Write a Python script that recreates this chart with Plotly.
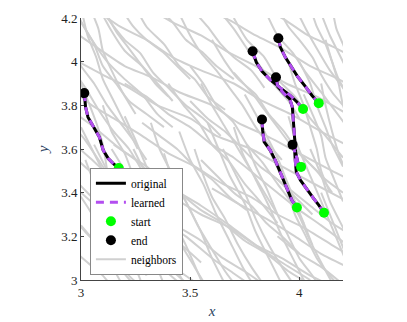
import plotly.graph_objects as go

# ---- trajectories (original == learned), listed from end to start ----
traj_x = [
    [3.015, 3.021, 3.032, 3.057, 3.084, 3.102, 3.125, 3.148, 3.173],
    [3.786, 3.803, 3.829, 3.867, 3.913, 3.959, 3.989, 4.017],
    [3.893, 3.901, 3.928, 3.956, 3.968, 3.972, 3.977, 3.983, 3.992, 4.008],
    [3.904, 3.913, 3.936, 3.966, 3.992, 4.028, 4.058, 4.089],
    [3.829, 3.832, 3.839, 3.867, 3.890, 3.913, 3.940, 3.966, 3.989],
    [3.969, 3.979, 3.982, 3.986, 4.005, 4.035, 4.066, 4.089, 4.113],
]
traj_y = [
    [3.856, 3.792, 3.746, 3.700, 3.655, 3.594, 3.556, 3.533, 3.513],
    [4.048, 3.997, 3.956, 3.917, 3.880, 3.845, 3.815, 3.783],
    [3.929, 3.886, 3.856, 3.830, 3.792, 3.731, 3.655, 3.586, 3.541, 3.518],
    [4.107, 4.066, 4.020, 3.975, 3.932, 3.886, 3.845, 3.810],
    [3.735, 3.685, 3.632, 3.594, 3.548, 3.495, 3.426, 3.365, 3.332],
    [3.620, 3.586, 3.541, 3.495, 3.457, 3.414, 3.373, 3.343, 3.308],
]

# ---- neighbour trajectories ----
neighbor_x = [
    [2.95, 3.1, 3.22, 3.35, 3.5, 3.62, 3.78, 3.92, 4.05, 4.22],
    [2.95, 3.08, 3.2, 3.32, 3.45, 3.6, 3.72, 3.85, 4.0, 4.15, 4.25],
    [3.05, 3.18, 3.3, 3.42, 3.55, 3.7, 3.83, 3.96, 4.1, 4.25],
    [3.3, 3.42, 3.55, 3.68, 3.8, 3.94, 4.08, 4.22],
    [3.55, 3.68, 3.8, 3.92, 4.05, 4.18, 4.25],
    [3.8, 3.92, 4.04, 4.15, 4.25],
    [2.95, 3.05, 3.15, 3.28, 3.4, 3.52, 3.65, 3.78, 3.9, 4.02, 4.15, 4.25],
    [2.95, 3.06, 3.18, 3.3, 3.42, 3.55, 3.68, 3.8, 3.92, 4.05],
    [2.95, 3.04, 3.14, 3.25, 3.36, 3.48, 3.6, 3.7, 3.8],
    [2.95, 3.03, 3.12, 3.22, 3.32, 3.42, 3.5],
    [2.95, 3.02, 3.1, 3.18, 3.25],
    [2.95, 3.03, 3.1, 3.15],
    [3.0, 3.05, 3.1, 3.16, 3.2, 3.26, 3.3],
    [3.1, 3.14, 3.2, 3.25, 3.3, 3.36, 3.42],
    [3.2, 3.25, 3.3, 3.37, 3.42, 3.48, 3.55],
    [3.32, 3.36, 3.42, 3.48, 3.55, 3.6, 3.66],
    [3.45, 3.5, 3.56, 3.62, 3.68, 3.74, 3.8],
    [3.58, 3.63, 3.68, 3.75, 3.8, 3.86, 3.92],
    [3.7, 3.74, 3.8, 3.86, 3.92, 3.98, 4.04],
    [3.82, 3.86, 3.92, 3.98, 4.04, 4.1, 4.16],
    [3.95, 3.99, 4.04, 4.1, 4.15, 4.2, 4.25],
    [4.05, 4.1, 4.14, 4.2, 4.25],
    [3.6, 3.66, 3.72, 3.8, 3.86, 3.93, 4.0, 4.08, 4.15],
    [3.7, 3.76, 3.84, 3.9, 3.98, 4.05, 4.12, 4.2],
    [3.85, 3.9, 3.97, 4.03, 4.1, 4.16, 4.22],
    [3.98, 4.03, 4.08, 4.14, 4.2, 4.25],
    [4.1, 4.14, 4.18, 4.22],
    [3.5, 3.56, 3.62, 3.7, 3.76, 3.83, 3.9, 3.96, 4.02],
    [3.4, 3.47, 3.54, 3.6, 3.68, 3.75, 3.82, 3.9],
    [2.98, 3.05, 3.12, 3.2, 3.28, 3.35, 3.42],
    [3.08, 3.14, 3.2, 3.28, 3.35, 3.42],
    [2.95, 3.0, 3.06, 3.12, 3.18, 3.24, 3.3],
    [2.95, 3.02, 3.08, 3.15, 3.22, 3.28],
    [3.3, 3.42, 3.55, 3.68, 3.8, 3.92, 4.05, 4.18],
    [3.6, 3.72, 3.85, 3.98, 4.1, 4.22],
    [3.85, 3.95, 4.05, 4.15, 4.25],
    [3.05, 3.15, 3.25, 3.35, 3.45, 3.55],
    [3.2, 3.3, 3.4, 3.5, 3.6, 3.7, 3.8, 3.9, 4.0, 4.1, 4.22],
    [3.15, 3.25, 3.35, 3.45, 3.55, 3.65, 3.75, 3.85, 3.95, 4.05, 4.15],
    [3.0, 3.03, 3.07, 3.1, 3.15, 3.2, 3.26],
    [3.04, 3.08, 3.1, 3.14, 3.19, 3.25],
    [2.97, 3.0, 3.04, 3.07, 3.1, 3.12],
    [3.12, 3.2, 3.27, 3.33, 3.4, 3.48, 3.56, 3.64],
    [3.25, 3.3, 3.38, 3.45, 3.52, 3.58, 3.66],
    [3.45, 3.5, 3.55, 3.62, 3.68, 3.74, 3.8, 3.86, 3.92],
    [3.62, 3.7, 3.76, 3.82, 3.88, 3.95, 4.0],
    [3.9, 3.95, 4.0, 4.06, 4.1, 4.15, 4.2],
    [4.05, 4.08, 4.12, 4.15, 4.18, 4.22],
    [4.15, 4.17, 4.2, 4.23],
    [4.0, 4.05, 4.08, 4.12, 4.15, 4.2],
    [4.1, 4.12, 4.15, 4.18, 4.22],
    [2.95, 3.0, 3.05, 3.08, 3.12, 3.15, 3.2],
    [3.02, 3.06, 3.12, 3.16, 3.2, 3.24, 3.28],
    [3.06, 3.12, 3.16, 3.22, 3.28, 3.33, 3.38],
    [3.14, 3.2, 3.24, 3.3, 3.36, 3.42, 3.48],
    [3.24, 3.3, 3.35, 3.4, 3.46, 3.52, 3.58],
    [3.38, 3.42, 3.48, 3.54, 3.6, 3.66, 3.72],
    [3.52, 3.56, 3.6, 3.66, 3.72, 3.78, 3.85],
    [3.65, 3.7, 3.75, 3.8, 3.86, 3.92, 3.98],
    [3.76, 3.8, 3.85, 3.9, 3.95, 4.0, 4.06, 4.1],
    [3.9, 3.94, 3.98, 4.03, 4.08, 4.14, 4.2],
    [4.1, 4.14, 4.18, 4.22],
    [3.28, 3.36, 3.44, 3.52, 3.6, 3.68, 3.76],
    [3.5, 3.58, 3.66, 3.74, 3.82, 3.9, 3.98, 4.06],
    [3.7, 3.78, 3.84, 3.9, 3.96, 4.04, 4.12, 4.2],
    [2.95, 3.04, 3.12, 3.2, 3.3, 3.38, 3.46, 3.55],
    [3.0, 3.08, 3.16, 3.24, 3.32, 3.4, 3.48],
    [3.0, 3.06, 3.1, 3.16, 3.22, 3.3, 3.38],
    [3.1, 3.16, 3.22, 3.28, 3.34, 3.4],
    [3.18, 3.24, 3.3, 3.38, 3.44, 3.5],
    [3.35, 3.42, 3.48, 3.56, 3.62, 3.7],
    [3.5, 3.58, 3.64, 3.7, 3.78, 3.84],
    [3.95, 3.98, 4.02, 4.05, 4.08, 4.1, 4.14],
    [4.02, 4.06, 4.1, 4.12, 4.16, 4.2],
    [3.75, 3.8, 3.85, 3.9, 3.94, 3.98, 4.02, 4.06],
    [3.55, 3.6, 3.66, 3.72, 3.78, 3.84, 3.9],
    [2.95, 3.02, 3.08, 3.14, 3.2, 3.26, 3.32, 3.38],
    [3.0, 3.06, 3.12, 3.18, 3.24, 3.3],
    [3.35, 3.45, 3.55, 3.65, 3.75, 3.85],
    [3.9, 4.0, 4.1, 4.2],
    [3.55, 3.62, 3.7, 3.78, 3.85, 3.92, 4.0],
    [4.12, 4.15, 4.18, 4.2, 4.24],
]
neighbor_y = [
    [4.02, 3.94, 3.88, 3.8, 3.74, 3.66, 3.6, 3.52, 3.45, 3.36],
    [4.15, 4.06, 3.98, 3.93, 3.86, 3.8, 3.72, 3.66, 3.58, 3.5, 3.45],
    [4.25, 4.16, 4.1, 4.02, 3.96, 3.9, 3.82, 3.76, 3.68, 3.6],
    [4.25, 4.18, 4.12, 4.04, 3.98, 3.9, 3.84, 3.76],
    [4.25, 4.19, 4.12, 4.06, 3.98, 3.92, 3.88],
    [4.25, 4.2, 4.12, 4.07, 4.02],
    [3.88, 3.8, 3.74, 3.66, 3.58, 3.52, 3.44, 3.38, 3.3, 3.24, 3.16, 3.1],
    [3.78, 3.7, 3.6, 3.52, 3.42, 3.34, 3.25, 3.16, 3.08, 3.0],
    [3.64, 3.56, 3.47, 3.38, 3.28, 3.2, 3.1, 3.03, 2.96],
    [3.48, 3.4, 3.31, 3.22, 3.12, 3.04, 2.97],
    [3.3, 3.22, 3.14, 3.05, 2.97],
    [3.15, 3.08, 3.02, 2.96],
    [3.7, 3.6, 3.5, 3.38, 3.28, 3.15, 3.02],
    [3.8, 3.68, 3.58, 3.45, 3.35, 3.2, 3.05],
    [3.75, 3.64, 3.52, 3.4, 3.28, 3.16, 3.0],
    [3.72, 3.6, 3.48, 3.36, 3.22, 3.1, 2.98],
    [3.68, 3.55, 3.44, 3.3, 3.18, 3.06, 2.96],
    [3.72, 3.6, 3.48, 3.35, 3.22, 3.1, 2.98],
    [3.7, 3.58, 3.46, 3.34, 3.2, 3.08, 2.96],
    [3.72, 3.6, 3.47, 3.34, 3.2, 3.08, 2.97],
    [3.75, 3.62, 3.5, 3.36, 3.24, 3.12, 3.0],
    [3.6, 3.48, 3.36, 3.24, 3.14],
    [4.1, 4.0, 3.92, 3.85, 3.76, 3.68, 3.58, 3.5, 3.4],
    [4.2, 4.1, 4.02, 3.92, 3.84, 3.74, 3.66, 3.56],
    [4.22, 4.12, 4.04, 3.95, 3.86, 3.78, 3.7],
    [4.25, 4.15, 4.06, 3.96, 3.88, 3.8],
    [4.22, 4.12, 4.04, 3.96],
    [3.98, 3.9, 3.8, 3.72, 3.62, 3.54, 3.44, 3.36, 3.26],
    [3.9, 3.8, 3.72, 3.62, 3.54, 3.44, 3.36, 3.26],
    [4.22, 4.1, 4.0, 3.92, 3.85, 3.76, 3.7],
    [4.25, 4.14, 4.05, 3.98, 3.9, 3.82],
    [4.08, 3.98, 3.9, 3.8, 3.72, 3.64, 3.55],
    [3.98, 3.88, 3.78, 3.68, 3.6, 3.5],
    [3.45, 3.38, 3.3, 3.24, 3.16, 3.1, 3.02, 2.96],
    [3.42, 3.35, 3.28, 3.2, 3.12, 3.06],
    [3.5, 3.42, 3.34, 3.26, 3.2],
    [3.3, 3.24, 3.16, 3.1, 3.04, 2.97],
    [3.9, 3.84, 3.76, 3.7, 3.62, 3.56, 3.48, 3.4, 3.32, 3.25, 3.16],
    [3.62, 3.55, 3.46, 3.4, 3.32, 3.26, 3.18, 3.12, 3.04, 2.98, 2.92],
    [4.25, 4.12, 4.02, 3.92, 3.82, 3.72, 3.6],
    [4.25, 4.15, 4.05, 3.96, 3.86, 3.76],
    [4.0, 3.9, 3.8, 3.72, 3.62, 3.5],
    [4.2, 4.1, 4.04, 3.95, 3.88, 3.8, 3.74, 3.66],
    [4.25, 4.16, 4.08, 3.98, 3.92, 3.84, 3.78],
    [4.22, 4.12, 4.04, 3.96, 3.88, 3.8, 3.7, 3.62, 3.55],
    [4.25, 4.15, 4.06, 3.98, 3.9, 3.82, 3.74],
    [4.25, 4.16, 4.1, 4.02, 3.94, 3.86, 3.8],
    [4.25, 4.16, 4.08, 4.0, 3.92, 3.85],
    [4.25, 4.15, 4.08, 4.0],
    [4.0, 3.9, 3.8, 3.7, 3.62, 3.52],
    [3.9, 3.8, 3.68, 3.58, 3.48],
    [3.45, 3.38, 3.3, 3.2, 3.12, 3.05, 2.96],
    [3.55, 3.45, 3.36, 3.26, 3.16, 3.08, 2.98],
    [3.62, 3.5, 3.4, 3.3, 3.2, 3.1, 2.98],
    [3.6, 3.5, 3.4, 3.3, 3.18, 3.08, 2.97],
    [3.6, 3.48, 3.38, 3.27, 3.16, 3.06, 2.96],
    [3.58, 3.46, 3.36, 3.24, 3.14, 3.04, 2.96],
    [3.6, 3.48, 3.38, 3.28, 3.16, 3.06, 2.96],
    [3.6, 3.5, 3.4, 3.28, 3.16, 3.06, 2.97],
    [3.62, 3.52, 3.42, 3.3, 3.2, 3.1, 3.02, 2.96],
    [3.52, 3.42, 3.3, 3.2, 3.1, 3.02, 2.95],
    [3.4, 3.3, 3.2, 3.1],
    [3.72, 3.66, 3.6, 3.52, 3.46, 3.38, 3.32],
    [3.82, 3.74, 3.68, 3.6, 3.52, 3.46, 3.38, 3.3],
    [3.95, 3.86, 3.78, 3.7, 3.62, 3.54, 3.46, 3.4],
    [3.58, 3.5, 3.44, 3.36, 3.3, 3.22, 3.16, 3.08],
    [3.4, 3.33, 3.26, 3.18, 3.1, 3.03, 2.96],
    [4.18, 4.08, 3.98, 3.9, 3.82, 3.76, 3.7],
    [4.25, 4.14, 4.06, 3.98, 3.9, 3.84],
    [4.25, 4.16, 4.1, 4.04, 3.98, 3.92],
    [4.25, 4.18, 4.1, 4.04, 3.98, 3.92],
    [4.25, 4.16, 4.08, 4.02, 3.96, 3.88],
    [4.0, 3.9, 3.8, 3.7, 3.6, 3.5, 3.4],
    [3.85, 3.76, 3.66, 3.56, 3.46, 3.36],
    [3.85, 3.76, 3.66, 3.56, 3.46, 3.36, 3.26, 3.16],
    [3.9, 3.8, 3.7, 3.6, 3.5, 3.4, 3.3],
    [3.72, 3.64, 3.55, 3.46, 3.38, 3.3, 3.2, 3.12],
    [3.25, 3.18, 3.12, 3.06, 3.0, 2.95],
    [3.3, 3.24, 3.18, 3.1, 3.04, 2.97],
    [3.2, 3.12, 3.06, 2.98],
    [3.55, 3.48, 3.4, 3.34, 3.26, 3.2, 3.12],
    [4.1, 4.0, 3.9, 3.8, 3.7],
]

x_ticks = [3, 3.5, 4]
y_ticks = [3, 3.2, 3.4, 3.6, 3.8, 4, 4.2]

GRAY = "#d0d0d0"
PURPLE = "#b34ef0"
GREEN = "#00ff00"
FONT = "Liberation Serif"

fig = go.Figure()

for i, (nx, ny) in enumerate(zip(neighbor_x, neighbor_y)):
    fig.add_trace(go.Scatter(x=nx, y=ny, mode="lines",
                             line=dict(color=GRAY, width=2, shape="spline", smoothing=0.6),
                             name="neighbors", legendrank=5, showlegend=(i == 0),
                             hoverinfo="skip"))

for i, (tx, ty) in enumerate(zip(traj_x, traj_y)):
    fig.add_trace(go.Scatter(x=tx, y=ty, mode="lines", line=dict(color="black", width=3),
                             name="original", legendrank=1, showlegend=(i == 0)))
for i, (tx, ty) in enumerate(zip(traj_x, traj_y)):
    fig.add_trace(go.Scatter(x=tx, y=ty, mode="lines",
                             line=dict(color=PURPLE, width=3, dash="8px,6px"),
                             name="learned", legendrank=2, showlegend=(i == 0)))

fig.add_trace(go.Scatter(x=[t[-1] for t in traj_x], y=[t[-1] for t in traj_y], mode="markers",
                         marker=dict(color=GREEN, size=10), name="start", legendrank=3))
fig.add_trace(go.Scatter(x=[t[0] for t in traj_x], y=[t[0] for t in traj_y], mode="markers",
                         marker=dict(color="black", size=10), name="end", legendrank=4))

axis_common = dict(showgrid=False, zeroline=False, ticks="inside", ticklen=3,
                   linecolor="#444444", linewidth=1, tickcolor="#444444",
                   tickfont=dict(family=FONT, size=13, color="#222222"),
                   mirror=False, showline=True, automargin=False)

fig.update_layout(
    width=399, height=314,
    margin=dict(l=73, r=64, t=10, b=42),
    paper_bgcolor="white", plot_bgcolor="white",
    showlegend=True,
    legend=dict(x=0.034, y=0.02, xanchor="left", yanchor="bottom",
                bgcolor="white", bordercolor="#888888", borderwidth=1,
                font=dict(family=FONT, size=11.5, color="black"),
                tracegroupgap=0, itemwidth=30),
    xaxis=dict(range=[3, 4.2], tickvals=x_ticks, ticktext=[str(v) for v in x_ticks],
               title=dict(text="<i>x</i>", font=dict(family=FONT, size=15), standoff=6),
               **axis_common),
    yaxis=dict(range=[3, 4.2], tickvals=y_ticks, ticktext=[("%g" % v) for v in y_ticks],
               title=dict(text="<i>y</i>", font=dict(family=FONT, size=15), standoff=8),
               **axis_common),
)

fig.write_html("out.html")
